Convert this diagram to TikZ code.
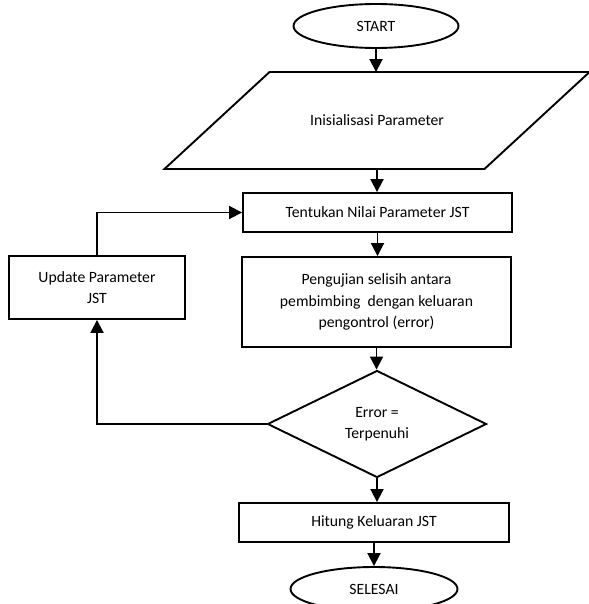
\documentclass[tikz,border=0pt]{standalone}
\usepackage{fontspec}
\setmainfont{Carlito}
\usetikzlibrary{shapes.geometric,arrows.meta,calc}
\tikzset{
  base/.style={line width=1.9pt, font=\fontsize{15.7}{21.5}\selectfont, align=center, inner sep=0pt},
  term/.style={base, draw, ellipse, minimum width=165, minimum height=44},
  pbox/.style={base, draw, rectangle},
  dec/.style={base, draw, diamond, minimum width=219, minimum height=107},
  flow/.style={line width=1.9pt, -{Triangle[width=13pt,length=13pt]}},
}
\begin{document}
\begin{tikzpicture}[x=1pt,y=-1pt]
\useasboundingbox (0,0) rectangle (588,604);
\fill[white] (0,0) rectangle (588,604);

\node[term] (start) at (376,26) {START};

% input block: parallelogram around a plain text node
\node[base, minimum width=320, minimum height=95] (init) at (377,120.5) {Inisialisasi Parameter};
\draw[line width=1.9pt, line join=miter]
  ($(init.north)+(-107.5,0)$) -- ($(init.north)+(212.5,0)$) --
  ($(init.south)+(107.5,0)$) -- ($(init.south)+(-212.5,0)$) -- cycle;

\node[pbox, minimum width=269, minimum height=39] (tent) at (377.5,212.5) {Tentukan Nilai Parameter JST};
\node[pbox, minimum width=269, minimum height=90] (uji) at (376.5,302) {Pengujian selisih antara\\pembimbing\ \ dengan keluaran\\pengontrol (error)};
\node[pbox, minimum width=176, minimum height=63] (upd) at (97,287.5) {Update Parameter\\JST};
\node[dec] (err) at (377,424) {Error =\\Terpenuhi};
\node[pbox, minimum width=270, minimum height=39] (hit) at (374,522.5) {Hitung Keluaran JST};
\node[term, minimum width=167] (end) at (374,589) {SELESAI};

\draw[flow] (start.south) -- (start.south |- init.north);
\draw[flow] (init.south) -- (init.south |- tent.north);
\draw[flow] (tent.south) -- (tent.south |- uji.north);
\draw[flow] (uji.south) -- (uji.south |- err.north);
\draw[flow] (err.south) -- (err.south |- hit.north);
\draw[flow] (hit.south) -- (hit.south |- end.north);
\draw[flow] (upd.north) |- (tent.west);
\draw[flow] (err.west) -| (upd.south);
\end{tikzpicture}
\end{document}
